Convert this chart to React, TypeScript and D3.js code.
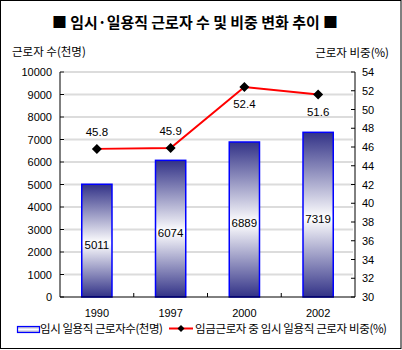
import React from "react";
import * as d3 from "d3";

const categories = ["1990", "1997", "2000", "2002"];
const workers = [5011, 6074, 6889, 7319];
const shares = [45.8, 45.9, 52.4, 51.6];
const leftTicks = [0, 1000, 2000, 3000, 4000, 5000, 6000, 7000, 8000, 9000, 10000];
const rightTicks = [30, 32, 34, 36, 38, 40, 42, 44, 46, 48, 50, 52, 54];

const title = "■ 임시·일용직 근로자 수 및 비중 변화 추이 ■";
const leftTitle = "근로자 수(천명)";
const rightTitle = "근로자 비중(%)";
const legendBar = "임시 일용직 근로자수(천명)";
const legendLine = "임금근로자 중 임시 일용직 근로자 비중(%)";

const W = 402;
const H = 350;
const plot = { left: 60, right: 355, top: 72, bottom: 297 };
const FONT = "'Liberation Sans', Arial, sans-serif";
const KFONT = "'Noto Sans CJK KR', sans-serif";

export default function App() {
  const x = d3
    .scaleBand<string>()
    .domain(categories)
    .range([plot.left, plot.right])
    .paddingInner(0.59)
    .paddingOuter(0.295);
  const band = d3.scaleBand<string>().domain(categories).range([plot.left, plot.right]);
  const yL = d3.scaleLinear().domain([0, 10000]).range([plot.bottom, plot.top]);
  const yR = d3.scaleLinear().domain([30, 54]).range([plot.bottom, plot.top]);
  const cx = (c: string) => (band(c) as number) + band.bandwidth() / 2;

  const line = d3
    .line<number>()
    .x((_, i) => cx(categories[i]))
    .y((d) => yR(d));

  const diamond = (px: number, py: number, r: number) =>
    `M${px},${py - r}L${px + r},${py}L${px},${py + r}L${px - r},${py}Z`;

  return (
    <div style={{ position: "absolute", left: 0, top: 0 }}>
      <svg width={W} height={H} style={{ display: "block" }}>
        <defs>
          <linearGradient id="barGrad" x1="0" y1="0" x2="0" y2="1">
            <stop offset="0%" stopColor="#323287" />
            <stop offset="52%" stopColor="#ffffff" />
            <stop offset="100%" stopColor="#323287" />
          </linearGradient>
          <linearGradient id="legGrad" x1="0" y1="0" x2="0" y2="1">
            <stop offset="0%" stopColor="#9a9ac0" />
            <stop offset="50%" stopColor="#ffffff" />
            <stop offset="100%" stopColor="#9a9ac0" />
          </linearGradient>
        </defs>
        <rect x={0} y={0} width={W} height={H} fill="#fff" />
        <rect x={0.5} y={0.5} width={400.5} height={348} fill="none" stroke="#000" strokeWidth={1} />

        <text
          x={195}
          y={28}
          textAnchor="middle"
          fontFamily={KFONT}
          fontWeight="bold"
          fontSize={15}
          fill="#000"
          textLength={286}
          lengthAdjust="spacingAndGlyphs"
        >
          {title}
        </text>
        <text x={12} y={56} fontFamily={KFONT} fontSize={11.5} fill="#000">
          {leftTitle}
        </text>
        <text x={389} y={57} textAnchor="end" fontFamily={KFONT} fontSize={11.5} fill="#000">
          {rightTitle}
        </text>

        {/* gridlines */}
        {leftTicks.slice(1).map((t) => (
          <line key={t} x1={plot.left + 4} x2={plot.right - 2} y1={yL(t)} y2={yL(t)} stroke="#dcdcdc" strokeWidth={2} />
        ))}

        {/* bars */}
        {categories.map((c, i) => (
          <rect
            key={c}
            x={x(c)}
            y={yL(workers[i])}
            width={x.bandwidth()}
            height={plot.bottom - yL(workers[i])}
            fill="url(#barGrad)"
            stroke="#0000ff"
            strokeWidth={1.5}
          />
        ))}
        {categories.map((c, i) => (
          <text
            key={c}
            x={cx(c)}
            y={(yL(workers[i]) + plot.bottom) / 2 + 8}
            textAnchor="middle"
            fontFamily={FONT}
            fontSize={11.5}
            fill="#000"
          >
            {workers[i]}
          </text>
        ))}

        {/* axes */}
        <line x1={plot.left} x2={plot.left} y1={plot.top} y2={plot.bottom} stroke="#000" />
        <line x1={plot.right} x2={plot.right} y1={plot.top} y2={plot.bottom} stroke="#000" />
        <line x1={plot.left} x2={plot.right} y1={plot.bottom} y2={plot.bottom} stroke="#000" />
        {leftTicks.map((t) => (
          <g key={t}>
            <line x1={plot.left} x2={plot.left + 4} y1={yL(t)} y2={yL(t)} stroke="#000" />
            <text x={52} y={yL(t) + 4} textAnchor="end" fontFamily={FONT} fontSize={11} fill="#000">
              {t}
            </text>
          </g>
        ))}
        {rightTicks.map((t) => (
          <g key={t}>
            <line x1={plot.right - 4} x2={plot.right} y1={yR(t)} y2={yR(t)} stroke="#000" />
            <text x={362} y={yR(t) + 4} fontFamily={FONT} fontSize={11} fill="#000">
              {t}
            </text>
          </g>
        ))}
        {categories.slice(1).map((c) => (
          <line key={c} x1={band(c)} x2={band(c)} y1={plot.bottom} y2={plot.bottom - 4} stroke="#000" />
        ))}
        {categories.map((c) => (
          <text key={c} x={cx(c)} y={317} textAnchor="middle" fontFamily={FONT} fontSize={11} fill="#000">
            {c}
          </text>
        ))}

        {/* line series */}
        <path d={line(shares) || ""} fill="none" stroke="#ff0000" strokeWidth={2} />
        {shares.map((s, i) => (
          <path key={i} d={diamond(cx(categories[i]), yR(s), 5)} fill="#000" />
        ))}
        {shares.map((s, i) => (
          <text
            key={i}
            x={cx(categories[i])}
            y={i < 2 ? yR(s) - 13 : yR(s) + 21}
            textAnchor="middle"
            fontFamily={FONT}
            fontSize={11.5}
            fill="#000"
          >
            {s.toFixed(1)}
          </text>
        ))}

        {/* legend */}
        <rect x={17.5} y={326.5} width={22} height={6} fill="url(#legGrad)" stroke="#0000ff" strokeWidth={1.2} />
        <text x={40} y={333} fontFamily={KFONT} fontSize={11.5} fill="#000" textLength={123} lengthAdjust="spacing">
          {legendBar}
        </text>
        <line x1={169} x2={193} y1={328.5} y2={328.5} stroke="#ff0000" strokeWidth={2} />
        <path d={diamond(181, 328.5, 3.5)} fill="#000" />
        <text x={195} y={333} fontFamily={KFONT} fontSize={11.5} fill="#000" textLength={192} lengthAdjust="spacing">
          {legendLine}
        </text>
      </svg>
    </div>
  );
}
